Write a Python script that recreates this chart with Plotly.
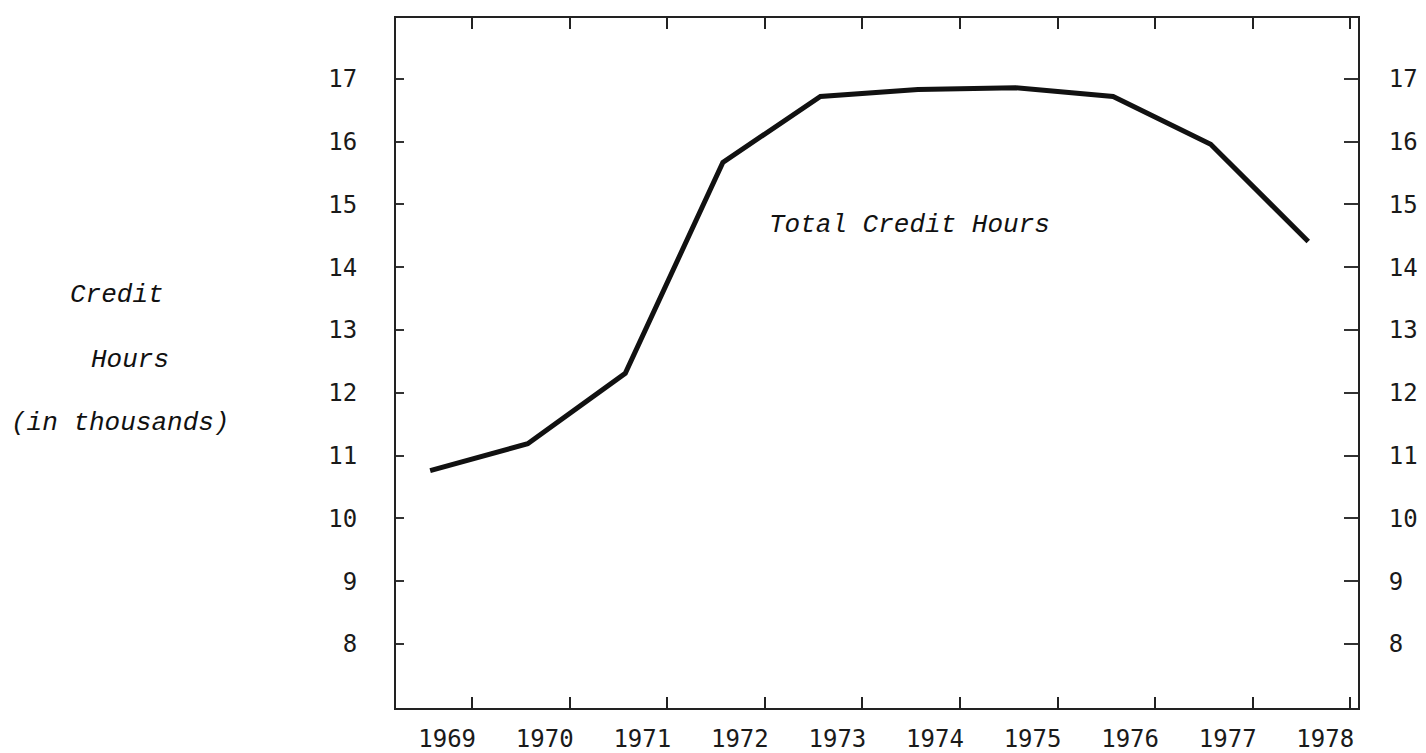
"""
Total credit hours, 1969-1978 (typewriter-style line chart).
"""

import plotly.graph_objects as go

# data
years = [1969, 1970, 1971, 1972, 1973, 1974, 1975, 1976, 1977, 1978]
credit_hours = [10.76, 11.19, 12.31, 15.67, 16.72, 16.83, 16.86, 16.72, 15.96, 14.41]

y_ticks = [8, 9, 10, 11, 12, 13, 14, 15, 16, 17]
x_labels = [str(y) for y in years]

series_label = "Total Credit Hours"
axis_title_lines = ["Credit", "Hours", "(in thousands)"]

TEXT_FONT = "Liberation Mono"
TICK_FONT = "DejaVu Sans Mono"
INK = "#111111"

fig = go.Figure()

fig.add_trace(
    go.Scatter(
        x=years,
        y=credit_hours,
        mode="lines",
        line=dict(color=INK, width=5),
        showlegend=False,
        hoverinfo="x+y",
    )
)

# invisible copy so the right-hand axis gets drawn
fig.add_trace(
    go.Scatter(
        x=years,
        y=credit_hours,
        yaxis="y2",
        mode="lines",
        line=dict(color="rgba(0,0,0,0)", width=0),
        showlegend=False,
        hoverinfo="skip",
    )
)

y_range = [6.98, 17.97]
tick_font = dict(family=TICK_FONT, size=24, color="#1a1a1a")

fig.update_layout(
    width=1426,
    height=753,
    margin=dict(l=388, r=76, t=8, b=42),
    paper_bgcolor="white",
    plot_bgcolor="white",
    xaxis=dict(
        range=[1968.65, 1978.51],
        tickvals=years,
        ticktext=x_labels,
        ticks="",
        ticklabelshift=17,
        ticklabelstandoff=8,
        showgrid=False,
        zeroline=False,
        showline=True,
        linecolor="#222222",
        linewidth=2,
        mirror="allticks",
        tickfont=tick_font,
        minor=dict(
            tick0=1968.43,
            dtick=1,
            ticks="inside",
            ticklen=11,
            tickwidth=1.5,
            tickcolor="#222222",
            showgrid=False,
        ),
    ),
    yaxis=dict(
        range=y_range,
        tickvals=y_ticks,
        ticks="inside",
        ticklen=8,
        tickwidth=1.5,
        tickcolor="#333333",
        ticklabelstandoff=32,
        showgrid=False,
        zeroline=False,
        showline=True,
        linecolor="#222222",
        linewidth=2,
        tickfont=tick_font,
    ),
    yaxis2=dict(
        range=y_range,
        overlaying="y",
        side="right",
        tickvals=y_ticks,
        ticks="inside",
        ticklen=14,
        tickwidth=1.5,
        tickcolor="#333333",
        ticklabelstandoff=24,
        showgrid=False,
        zeroline=False,
        showline=True,
        linecolor="#222222",
        linewidth=2,
        tickfont=tick_font,
    ),
)

text_font = dict(family=TEXT_FONT, size=26, color=INK)

# series label inside the plot
fig.add_annotation(
    x=0.386,
    y=0.70,
    xref="paper",
    yref="paper",
    xanchor="left",
    yanchor="middle",
    text=f"<i>{series_label}</i>",
    showarrow=False,
    font=text_font,
)

# left-hand axis title, three typed lines
for line, px_left, py in zip(axis_title_lines, [60, 81, 1], [290, 356, 421]):
    fig.add_annotation(
        x=(px_left - 388) / 962,
        y=(711 - py) / 703,
        xref="paper",
        yref="paper",
        xanchor="left",
        yanchor="middle",
        text=f"<i>{line}</i>",
        showarrow=False,
        font=text_font,
    )

fig.write_html("out.html")
